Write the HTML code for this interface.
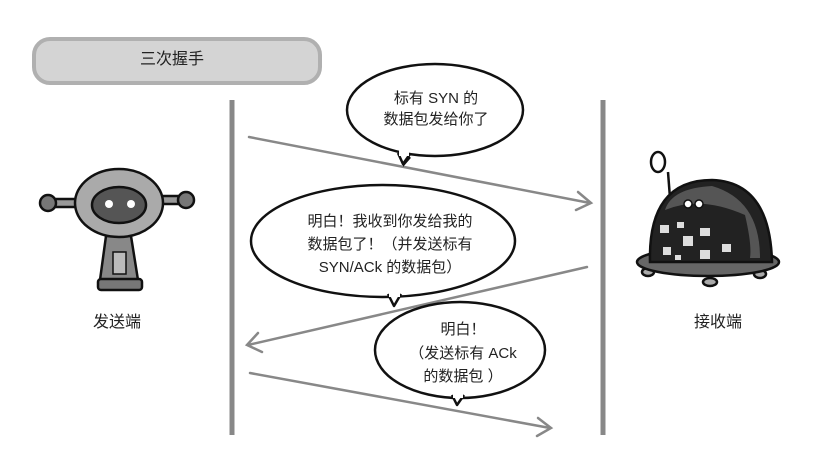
<!DOCTYPE html>
<html><head><meta charset="utf-8"><style>
html,body{margin:0;padding:0;background:#fff;}
svg{display:block;}
text{font-family:"Liberation Sans","Noto Sans CJK SC",sans-serif;fill:#222;}
</style></head><body>
<svg width="823" height="466" viewBox="0 0 823 466" xmlns="http://www.w3.org/2000/svg">
<rect x="34" y="39" width="286" height="44" rx="16" fill="#d4d4d4" stroke="#b0b0b0" stroke-width="4"/>
<text x="140" y="64" font-size="16">三次握手</text>

<line x1="232" y1="100" x2="232" y2="435" stroke="#888" stroke-width="5"/>
<line x1="603" y1="100" x2="603" y2="435" stroke="#888" stroke-width="5"/>

<g stroke="#888" stroke-width="2.5" fill="none" stroke-linecap="round">
<line x1="249" y1="137" x2="590" y2="203"/>
<polyline points="578,192 591,203 576,210"/>
<line x1="587" y1="267" x2="248" y2="345"/>
<polyline points="258,333 247,345 262,352"/>
<line x1="250" y1="373" x2="550" y2="428"/>
<polyline points="538,418 551,428 537,436"/>
</g>

<g fill="#fff" stroke="#111" stroke-width="2.5">
<path d="M403,155 L404,164 L410,157"/>
<ellipse cx="435" cy="110" rx="88" ry="46"/>
<path d="M398,153 L403,164 L410,154" stroke-linejoin="round"/>
<ellipse cx="383" cy="241" rx="132" ry="56"/>
<path d="M388,294 L394,306 L401,294" stroke-linejoin="round"/>
<ellipse cx="460" cy="350" rx="85" ry="48"/>
<path d="M452,395 L457,405 L464,395" stroke-linejoin="round"/>
</g>
<g fill="#fff"><rect x="399" y="150" width="10" height="6"/><rect x="389" y="291" width="11" height="6"/><rect x="453" y="392" width="10" height="6"/></g>

<g font-size="15" text-anchor="middle">
<text x="436" y="103">标有 SYN 的</text>
<text x="436" y="124">数据包发给你了</text>
<text x="390" y="226">明白！我收到你发给我的</text>
<text x="390" y="249">数据包了！（并发送标有</text>
<text x="390" y="272">SYN/ACk 的数据包）</text>
<text x="463" y="334">明白！</text>
<text x="463" y="358">（发送标有 ACk</text>
<text x="463" y="381">的数据包 ）</text>
</g>

<text x="117" y="327" font-size="16" text-anchor="middle">发送端</text>
<text x="718" y="327" font-size="16" text-anchor="middle">接收端</text>

<!-- left robot -->
<g stroke="#111" stroke-width="2.5">
<rect x="52" y="199" width="26" height="8" fill="#999"/>
<rect x="160" y="196" width="24" height="8" fill="#999"/>
<circle cx="48" cy="203" r="8" fill="#777"/>
<circle cx="186" cy="200" r="8" fill="#777"/>
<path d="M106,236 L131,236 L138,280 L100,280 Z" fill="#888"/>
<rect x="98" y="279" width="44" height="11" rx="3" fill="#777"/>
<rect x="113" y="252" width="13" height="22" fill="#bbb" stroke-width="1.5"/>
<ellipse cx="119" cy="203" rx="44" ry="34" fill="#aaa"/>
<ellipse cx="119" cy="205" rx="27" ry="18" fill="#555"/>
</g>
<circle cx="109" cy="204" r="4" fill="#fff"/><circle cx="131" cy="204" r="4" fill="#fff"/>

<!-- right robot -->
<g stroke="#111" stroke-width="2.5">
<line x1="668" y1="172" x2="670" y2="198"/>
<ellipse cx="658" cy="162" rx="7" ry="10" fill="#fff"/>
<ellipse cx="648" cy="272" rx="6" ry="4" fill="#aaa"/>
<ellipse cx="710" cy="282" rx="7" ry="4" fill="#aaa"/>
<ellipse cx="760" cy="274" rx="6" ry="4" fill="#aaa"/>
<ellipse cx="708" cy="262" rx="71" ry="14" fill="#666"/>
<path d="M650,262 Q648,180 712,180 Q770,182 772,262 Z" fill="#222"/>
</g>
<path d="M665,210 Q700,195 745,215 Q752,245 750,258 L760,258 Q760,200 712,186 Q672,188 665,210Z" fill="#555"/>
<g fill="#ddd">
<rect x="660" y="225" width="9" height="8"/><rect x="677" y="222" width="7" height="6"/><rect x="700" y="228" width="10" height="8"/>
<rect x="683" y="236" width="10" height="10"/><rect x="663" y="247" width="8" height="8"/><rect x="675" y="255" width="6" height="5"/>
<rect x="700" y="250" width="10" height="9"/><rect x="722" y="244" width="9" height="8"/>
</g>
<circle cx="688" cy="204" r="4" fill="#fff" stroke="#111" stroke-width="1.5"/>
<circle cx="699" cy="204" r="4" fill="#fff" stroke="#111" stroke-width="1.5"/>
</svg>
</body></html>
